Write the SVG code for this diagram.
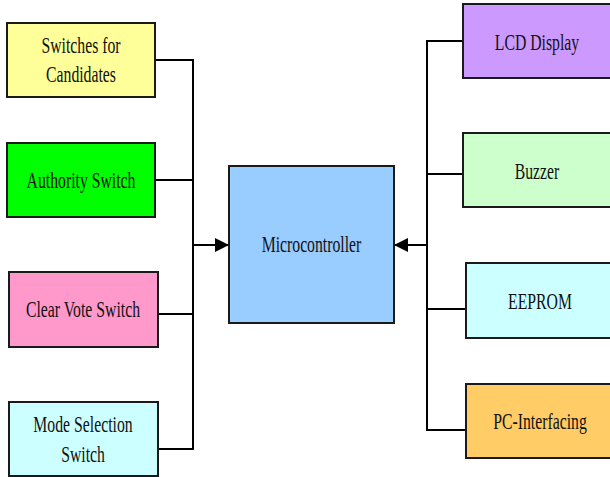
<svg xmlns="http://www.w3.org/2000/svg" width="610" height="477" viewBox="0 0 610 477">
<style>
.box{stroke:#1a1a1a;stroke-width:2}
.lbl{font-family:"Liberation Serif","Times New Roman",serif;font-size:23px;fill:#111;text-anchor:middle}
.conn{fill:none;stroke:#000;stroke-width:2}
</style>
<defs>
<marker id="ah" markerUnits="userSpaceOnUse" markerWidth="14" markerHeight="14" refX="14" refY="7" orient="auto">
<path d="M0,0 L14,7 L0,14 z" fill="#000"/>
</marker>
</defs>
<rect width="610" height="477" fill="#fff"/>
<g id="connectors">
<path class="conn" d="M155,60 H193 V449 H158 M155,180 H193 M158,314 H193"/>
<path class="conn" d="M193,245 H229" marker-end="url(#ah)"/>
<path class="conn" d="M463,41 H427 V430 H466 M463,174 H427 M466,309 H427"/>
<path class="conn" d="M427,245 H394" marker-end="url(#ah)"/>
</g>
<g id="switches">
<rect class="box" x="7" y="23" width="148" height="74" fill="#FFFF99"/>
<text class="lbl" transform="translate(81,52.5) scale(0.685,1)">Switches for</text>
<text class="lbl" transform="translate(81,82) scale(0.685,1)">Candidates</text>
</g>
<g id="authority">
<rect class="box" x="7" y="143" width="148" height="74" fill="#00FF00"/>
<text class="lbl" transform="translate(81,187.5) scale(0.685,1)">Authority Switch</text>
</g>
<g id="clearvote">
<rect class="box" x="9" y="272" width="149" height="75" fill="#FF99CC"/>
<text class="lbl" transform="translate(83,317) scale(0.685,1)">Clear Vote Switch</text>
</g>
<g id="mode">
<rect class="box" x="9" y="402" width="149" height="74" fill="#CCFFFF"/>
<text class="lbl" transform="translate(83,432) scale(0.685,1)">Mode Selection</text>
<text class="lbl" transform="translate(83,462) scale(0.685,1)">Switch</text>
</g>
<g id="micro">
<rect class="box" x="229" y="166" width="165" height="157" fill="#99CCFF"/>
<text class="lbl" transform="translate(311.5,251.5) scale(0.685,1)">Microcontroller</text>
</g>
<g id="lcd">
<rect class="box" x="463" y="4" width="150" height="74" fill="#CC99FF"/>
<text class="lbl" transform="translate(537,50) scale(0.685,1)">LCD Display</text>
</g>
<g id="buzzer">
<rect class="box" x="463" y="133" width="150" height="74" fill="#CCFFCC"/>
<text class="lbl" transform="translate(537,178.5) scale(0.685,1)">Buzzer</text>
</g>
<g id="eeprom">
<rect class="box" x="466" y="263" width="150" height="75" fill="#CCFFFF"/>
<text class="lbl" transform="translate(540,308.5) scale(0.685,1)">EEPROM</text>
</g>
<g id="pc">
<rect class="box" x="466" y="384" width="150" height="74" fill="#FFCC66"/>
<text class="lbl" transform="translate(540,428.5) scale(0.685,1)">PC-Interfacing</text>
</g>
</svg>
